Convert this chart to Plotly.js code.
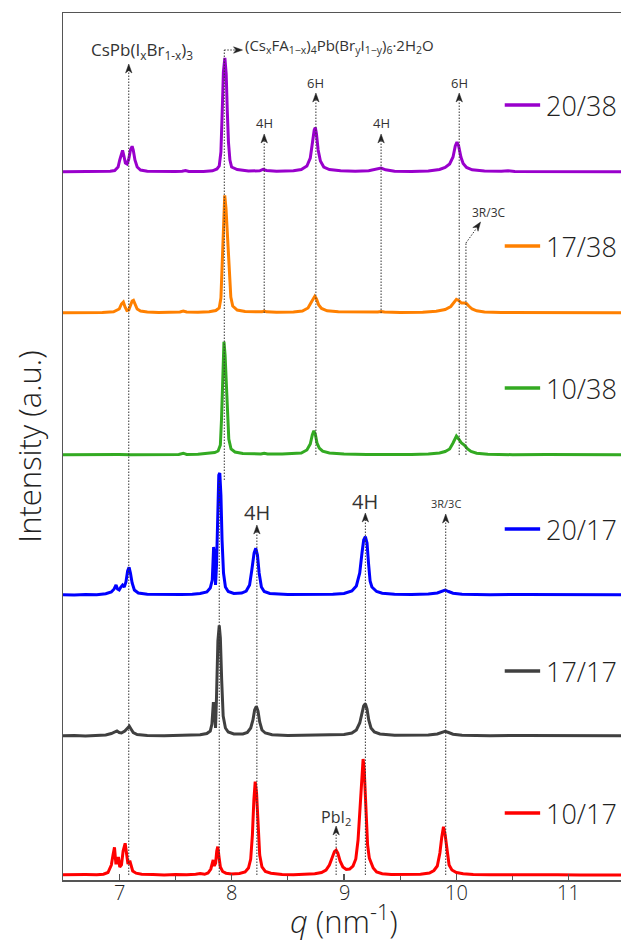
<!DOCTYPE html>
<html>
<head>
<meta charset="utf-8">
<script src="https://cdn.plot.ly/plotly-3.0.1.min.js"></script>
<style>
html,body{margin:0;padding:0;overflow:hidden;background:#fff;width:621px;height:941px;}
#chart{width:640px;height:941px;}
</style>
</head>
<body>
<div id="chart"></div>
<script>
// ---- data (q in nm^-1, intensity in arbitrary units above each trace's baseline) ----
const labels = ["10/17", "17/17", "20/17", "10/38", "17/38", "20/38"];
const colors = ["#ff0000", "#404040", "#0000ff", "#33aa22", "#ff8000", "#9900cc"];
const offsets = [5, 144, 285, 425, 567, 708];
const tickVals = [7, 8, 9, 10, 11];
const tickText = ["7", "8", "9", "10", "11"];

const q_10_17 = [6.5,6.6,6.7,6.8,6.86,6.9,6.93,6.945,6.958,6.97,6.98,6.993,7.005,7.02,7.035,7.053,7.065,7.078,7.094,7.105,7.12,7.15,7.2,7.3,7.4,7.5,7.6,7.68,7.72,7.76,7.79,7.815,7.828,7.836,7.846,7.858,7.868,7.877,7.888,7.9,7.92,7.95,8.0,8.07,8.12,8.15,8.17,8.185,8.198,8.21,8.222,8.235,8.25,8.27,8.3,8.35,8.45,8.55,8.65,8.74,8.8,8.84,8.87,8.895,8.915,8.93,8.945,8.965,8.99,9.02,9.05,9.08,9.105,9.125,9.145,9.16,9.17,9.18,9.195,9.21,9.225,9.24,9.26,9.29,9.34,9.42,9.55,9.68,9.76,9.8,9.83,9.853,9.87,9.885,9.9,9.917,9.935,9.96,10.0,10.06,10.15,10.3,10.5,10.7,10.9,11.1,11.3,11.5];
const i_10_17 = [0.3,0,0.4,0.3,0.8,2.5,10,20,27.7,12,12,18,8,10,24,31.7,22,11,14.3,9,4,1.8,0.8,0.4,0,0.5,0.2,0.8,1.5,0.7,2,6,12,15,9,12,24,28.3,18,8,3.5,1.8,1,1.5,3,7,16,40,75,93.3,82,45,20,8,3.5,1.8,0.6,0.3,0.8,1.2,2.5,5,10,18,23.5,25,22,14,8,5.5,6,9,16,35,70,100,116,105,65,30,17,13,7,3,1.2,0.5,0.4,0.8,2,4.5,9,22,38,48.3,40,22,10,5,2.5,1.2,0.5,0.2,0.4,0.1,0.3,0,0.3,0.1];

const q_17_17 = [6.5,6.6,6.7,6.8,6.88,6.93,6.96,6.98,7.0,7.02,7.05,7.075,7.09,7.105,7.125,7.16,7.25,7.4,7.55,7.65,7.72,7.78,7.81,7.825,7.838,7.846,7.857,7.866,7.878,7.89,7.9,7.912,7.925,7.945,7.97,8.02,8.1,8.14,8.17,8.19,8.205,8.22,8.235,8.25,8.27,8.3,8.36,8.5,8.7,8.9,9.0,9.07,9.11,9.14,9.16,9.175,9.19,9.205,9.22,9.24,9.27,9.32,9.45,9.6,9.75,9.83,9.87,9.9,9.93,9.97,10.05,10.3,10.6,10.9,11.2,11.5];
const i_17_17 = [0.2,0.5,0,0.4,1,2.5,4.5,5,3.5,3,5,8.5,9.7,7,3.5,1.5,0.6,0.2,0.5,0.8,1.2,2.5,5,12,34,28,8,40,95,110.7,98,55,20,8,4,2,2,3.5,8,16,26,29.7,25,14,6,3,1.2,0.5,0.6,0.9,1.5,3,6,13,24,30,32.3,27,16,8,4,2,0.8,0.6,1,2,3.5,4.7,3.5,1.8,0.8,0.3,0.5,0.2,0.4,0.2];

const q_20_17 = [6.5,6.6,6.7,6.8,6.88,6.93,6.955,6.972,6.985,7.0,7.015,7.03,7.045,7.06,7.075,7.088,7.1,7.115,7.135,7.17,7.25,7.4,7.55,7.65,7.72,7.78,7.81,7.828,7.84,7.848,7.857,7.866,7.876,7.886,7.895,7.905,7.915,7.928,7.945,7.97,8.02,8.09,8.13,8.16,8.18,8.2,8.215,8.23,8.245,8.265,8.29,8.34,8.5,8.7,8.9,9.0,9.07,9.11,9.14,9.16,9.175,9.19,9.205,9.218,9.232,9.248,9.265,9.29,9.34,9.45,9.6,9.75,9.83,9.87,9.9,9.93,9.97,10.05,10.3,10.6,10.9,11.2,11.5];
const i_20_17 = [0.3,0,0.5,0.3,1.2,3,6,10,6,5,8,10,8,13,24,27.7,22,12,5,2,0.8,0.3,0.5,0.8,1.5,3,7,15,48,40,10,30,90,120,122,100,55,22,8,3.5,1.5,2,4,10,25,42,46.7,40,22,8,3.5,1.5,0.5,0.4,0.8,1.5,4,9,22,42,55,58.3,52,32,14,8,6,3.5,1.8,0.8,0.4,0.9,2,4,5,3.5,1.8,0.8,0.3,0.5,0.2,0.4,0.2];

const q_10_38 = [6.5,6.7,6.9,7.0,7.1,7.3,7.45,7.53,7.57,7.6,7.7,7.8,7.85,7.88,7.9,7.91,7.92,7.932,7.942,7.952,7.962,7.975,7.995,8.03,8.1,8.2,8.26,8.29,8.32,8.45,8.55,8.62,8.67,8.7,8.718,8.732,8.746,8.76,8.78,8.81,8.87,9.0,9.2,9.4,9.6,9.75,9.85,9.9,9.94,9.97,9.99,10.0,10.02,10.045,10.07,10.1,10.13,10.18,10.28,10.5,10.8,11.1,11.5];
const i_10_38 = [0.2,0.5,0.1,0.4,0.2,0.3,0.5,0.6,1.8,0.6,0.8,1.5,2.5,4,10,35,85,113.3,100,70,40,16,6,3,1.5,1,1,1.8,1,1,1.2,2,5,11,20,24.3,20,12,7,3.8,2,1,0.6,0.4,0.5,0.9,2,3.5,6,12,17.5,19,16,12,10,6,3.5,1.8,0.8,0.3,0.5,0.2,0.3];

const q_17_38 = [6.5,6.7,6.85,6.95,7.0,7.02,7.037,7.052,7.068,7.085,7.1,7.115,7.127,7.14,7.16,7.19,7.25,7.35,7.5,7.54,7.57,7.6,7.7,7.8,7.86,7.89,7.905,7.915,7.927,7.939,7.95,7.96,7.97,7.98,7.993,8.01,8.05,8.12,8.22,8.27,8.29,8.31,8.4,8.55,8.63,8.68,8.71,8.728,8.74,8.755,8.775,8.8,8.85,8.95,9.1,9.25,9.3,9.33,9.36,9.5,9.7,9.82,9.9,9.95,9.98,10.0,10.02,10.045,10.07,10.09,10.11,10.14,10.18,10.25,10.4,10.6,10.9,11.2,11.5];
const i_17_38 = [0.3,0,0.5,1.2,4,9,11,6,2.5,3,8,12,12.7,9,4,2,1,0.4,0.8,1,2,1,0.8,1.2,2.5,5,15,45,95,117.7,105,82,58,35,16,7,3,1.5,1,1.2,2,1.2,0.8,1,2,5,11,15.5,16.7,14,8,4.5,2.2,1.2,0.8,0.7,1,1.5,1,0.5,0.8,1.8,3.5,6.5,11,13.7,12.5,10,10,9.5,7,4,2.2,1,0.4,0.5,0.2,0.4,0.2];

const q_20_38 = [6.5,6.7,6.85,6.92,6.96,6.99,7.005,7.02,7.03,7.04,7.055,7.07,7.085,7.1,7.115,7.125,7.14,7.16,7.19,7.25,7.4,7.5,7.56,7.59,7.62,7.75,7.83,7.87,7.89,7.905,7.915,7.927,7.94,7.952,7.962,7.972,7.985,8.0,8.05,8.15,8.25,8.28,8.31,8.4,8.55,8.62,8.67,8.7,8.72,8.735,8.745,8.755,8.77,8.79,8.82,8.87,8.97,9.1,9.22,9.29,9.33,9.37,9.45,9.6,9.75,9.85,9.9,9.94,9.97,9.99,10.005,10.02,10.04,10.06,10.09,10.14,10.25,10.4,10.46,10.52,10.8,11.1,11.5];
const i_20_38 = [0.2,0.5,0.2,0.8,1.5,5,12,20,21.7,17,9,8,13,22,25.7,22,12,5,2,0.8,0.3,0.5,0.8,1.5,0.6,0.5,1.2,3,6,20,55,100,114,98,60,30,12,5,2.5,1,1.2,2.7,1.5,0.8,1.2,2.5,6,14,30,42,44.4,38,22,11,5,2.5,1.2,0.8,1.2,2.5,4,2.2,0.8,0.5,1,2.5,4.5,8,15,26,30,26,15,8.5,4.5,2.2,1,0.8,1.2,0.6,0.3,0.4,0.2];

const qSeries = [q_10_17, q_17_17, q_20_17, q_10_38, q_17_38, q_20_38];
const iSeries = [i_10_17, i_17_17, i_20_17, i_10_38, i_17_38, i_20_38];
const qRange = [6.5, 11.5];

// ---- traces ----
const traces = labels.map((name, k) => ({
  type: "scatter", mode: "lines", name: name,
  x: qSeries[k],
  y: iSeries[k].map(v => v + offsets[k]),
  line: {color: colors[k], width: 3},
  hoverinfo: "skip", showlegend: false
}));

// ---- reference markers (dotted guides with arrowheads) ----
const QPX = 112.3;   // pixels per q unit of the plot area (arrowhead geometry)
const PLOT_H = 867;  // plot area height in px
const dotted = {color: "#333", width: 1, dash: "1.5px,1.5px"};
function seg(x0, y0, x1, y1) { return {type: "line", xref: "x", yref: "y", x0: x0, x1: x1, y0: y0, y1: y1, line: dotted, layer: "above"}; }
function vline(x, y0, y1) { return seg(x, y0, x, y1); }
function head(x, y, ux, uy) {
  const n = Math.hypot(ux, uy); ux /= n; uy /= n;
  const L = 9, W = 3.2, N = 6.5;
  const px = (d) => d / QPX;
  const bx = -L * ux, by = -L * uy;
  const p1 = [x + px(bx - W * uy), y + by + W * ux];
  const p2 = [x + px(-N * ux), y - N * uy];
  const p3 = [x + px(bx + W * uy), y + by - W * ux];
  return {type: "path", xref: "x", yref: "y", layer: "above",
    path: `M${x},${y} L${p1[0]},${p1[1]} L${p2[0]},${p2[1]} L${p3[0]},${p3[1]} Z`,
    fillcolor: "#222", line: {color: "#222", width: 0.5}};
}
function label(x, y, text, size, xanchor) {
  return {x: x, y: y, xref: "x", yref: "y", text: text, showarrow: false,
    xanchor: xanchor || "center", yanchor: "middle",
    font: {family: "Open Sans, sans-serif", size: size, color: "#333"}};
}

const shapes = [
  vline(7.085, 5, 810), head(7.085, 816, 0, 1),
  vline(7.89, 5, 400), vline(7.935, 400, 830), seg(7.935, 830, 8.03, 830), head(8.097, 830, 1, 0),
  vline(8.225, 5, 348), head(8.225, 355, 0, 1),
  vline(9.19, 5, 360), head(9.19, 367, 0, 1),
  vline(9.905, 5, 359), head(9.905, 366, 0, 1),
  vline(8.93, 5, 47), head(8.93, 54, 0, 1),
  vline(8.29, 567, 739), head(8.29, 746, 0, 1),
  vline(9.33, 567, 739), head(9.33, 746, 0, 1),
  vline(8.75, 425, 780), head(8.75, 787, 0, 1),
  vline(10.025, 425, 780), head(10.025, 787, 0, 1),
  vline(10.085, 425, 637), seg(10.085, 637, 10.174, 651), head(10.215, 658, 14.6, 21)
];

const annotations = [
  label(7.2, 830, "CsPb(I<sub>x</sub>Br<sub>1-x</sub>)<sub>3</sub>", 17),
  label(8.1, 834, "(Cs<sub>x</sub>FA<sub>1\u2212x</sub>)<sub>4</sub>Pb(Br<sub>y</sub>I<sub>1\u2212y</sub>)<sub>6</sub>\u00b72H<sub>2</sub>O", 15, "left"),
  label(8.29, 757, "4H", 13), label(9.33, 757, "4H", 13),
  label(8.75, 797, "6H", 13), label(10.025, 797, "6H", 13),
  label(10.294, 668, "3R/3C", 12),
  label(8.225, 368, "4H", 20), label(9.19, 379, "4H", 20),
  label(9.905, 377, "3R/3C", 11),
  label(8.93, 63, "PbI<sub>2</sub>", 16)
];

// ---- x tick labels and x title, placed a little below the frame ----
tickVals.forEach((v, k) => {
  annotations.push({x: v, xref: "x", y: -13 / PLOT_H, yref: "paper", text: tickText[k],
    showarrow: false, xanchor: "center", yanchor: "middle",
    font: {family: "Open Sans, sans-serif", size: 20, color: "#222", weight: 300}});
});
annotations.push({x: 0.5, xref: "paper", y: -39 / PLOT_H, yref: "paper",
  text: "<i>q</i> (nm<sup>-1</sup>)", showarrow: false, xanchor: "center", yanchor: "middle",
  font: {family: "Open Sans, sans-serif", size: 31, color: "#222", weight: 300}});

// ---- legend drawn beside each trace ----
const legendY = [67, 209, 351, 492, 634, 775];
labels.forEach((name, k) => {
  shapes.push({type: "line", xref: "paper", yref: "y", x0: 0.786, x1: 0.849,
    y0: legendY[k], y1: legendY[k], line: {color: colors[k], width: 3.5}});
  annotations.push({xref: "paper", yref: "y", x: 0.855, y: legendY[k], text: name,
    showarrow: false, xanchor: "left", yanchor: "middle",
    font: {family: "Open Sans, sans-serif", size: 27, color: "#222", weight: 300}});
});

const layout = {
  width: 640, height: 941,
  margin: {l: 63, r: 15, t: 13, b: 61},
  paper_bgcolor: "#fff", plot_bgcolor: "#fff",
  font: {family: "Open Sans, sans-serif", color: "#222"},
  showlegend: false,
  xaxis: {
    range: qRange, tickvals: tickVals,
    ticks: "inside", ticklen: 6, tickwidth: 1.2, tickcolor: "#555",
    minor: {dtick: 0.5, ticks: "inside", ticklen: 4, tickwidth: 1.2, tickcolor: "#555"},
    showticklabels: false,
    showgrid: false, zeroline: false,
    showline: true, linecolor: "#555", linewidth: 1.5, mirror: true
  },
  yaxis: {
    range: [0, PLOT_H], showticklabels: false, ticks: "",
    showgrid: false, zeroline: false,
    showline: true, linecolor: "#555", linewidth: 1.5, mirror: true,
    title: {text: "Intensity (a.u.)", font: {size: 31, color: "#222", weight: 300}, standoff: 10}
  },
  shapes: shapes,
  annotations: annotations
};

Plotly.newPlot("chart", traces, layout, {displayModeBar: false, staticPlot: true});
</script>
</body>
</html>
